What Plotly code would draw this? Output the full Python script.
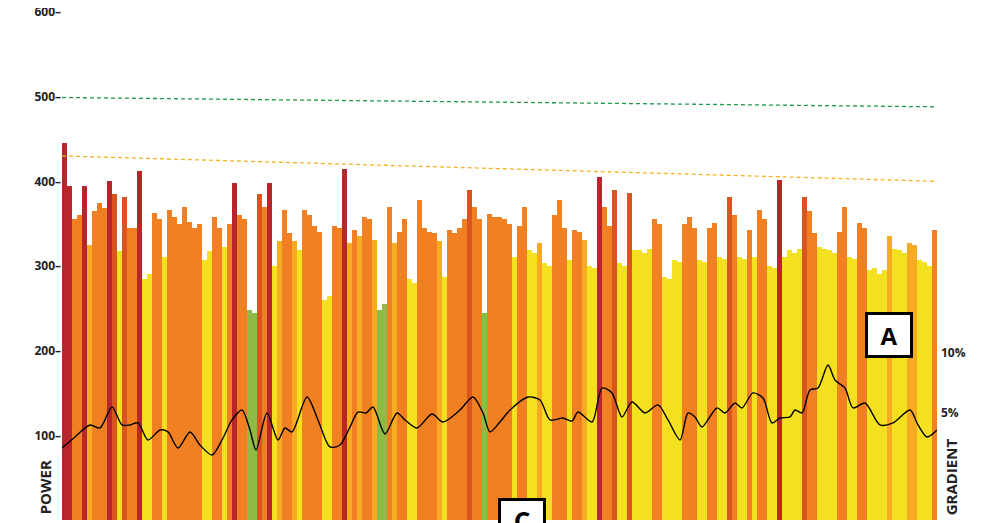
import plotly.graph_objects as go

# Power per sample (W)
power = [
    445, 395, 355, 360, 395, 325, 365, 375, 368, 400,
    385, 318, 382, 345, 345, 412, 285, 290, 363, 355,
    311, 366, 358, 350, 370, 352, 345, 350, 307, 318,
    358, 345, 323, 350, 398, 360, 355, 248, 245, 385,
    370, 398, 300, 330, 366, 339, 330, 319, 366, 360,
    347, 340, 260, 265, 347, 345, 414, 327, 343, 335,
    358, 355, 331, 248, 255, 370, 327, 340, 355, 285,
    280, 378, 345, 340, 339, 330, 287, 343, 339, 345,
    355, 390, 370, 355, 244, 362, 358, 358, 355, 350,
    311, 347, 370, 319, 315, 327, 304, 300, 360, 378,
    345, 307, 343, 340, 331, 300, 298, 405, 370, 347,
    390, 304, 300, 386, 319, 319, 315, 320, 355, 350,
    287, 285, 307, 305, 350, 358, 345, 307, 305, 345,
    351, 311, 308, 382, 360, 311, 308, 343, 311, 366,
    355, 300, 298, 402, 311, 319, 315, 320, 382, 365,
    339, 323, 320, 319, 315, 340, 370, 311, 308, 351,
    345, 295, 298, 290, 295, 335, 320, 319, 315, 327,
    325, 307, 305, 300, 343,
]

# Gradient profile (%), sampled along the same distance scale
gradient_pos = [
    -0.5, 2.1, 5.1, 7.1, 9.5, 11.5, 13.1, 14.7, 16.7, 19.1,
    20.7, 22.7, 25.1, 27.1, 29.5, 31.5, 33.5, 35.5, 37.1, 38.3,
    40.5, 42.7, 44.1, 45.5, 48.5, 50.7, 53.1, 55.1, 57.1, 58.7,
    60.3, 61.7, 64.1, 66.5, 68.1, 70.5, 73.5, 75.7, 79.1, 81.7,
    83.7, 85.1, 87.1, 89.1, 92.7, 95.1, 97.1, 99.7, 101.5, 102.7,
    105.5, 107.5, 109.5, 111.5, 113.5, 116.1, 118.7, 120.7, 123.1, 124.7,
    126.1, 127.5, 130.5, 132.1, 134.1, 135.5, 137.7, 139.7, 141.5, 143.1,
    145.1, 146.1, 147.5, 149.1, 150.7, 152.7, 154.1, 156.1, 157.7, 160.1,
    163.1, 165.7, 169.1, 170.7, 172.5, 174.5,
]
gradient_pct = [
    2.08, 3.0, 4.0, 3.75, 5.5, 4.0, 4.0, 4.17, 2.75, 3.58,
    3.42, 2.08, 3.42, 2.33, 1.5, 2.75, 4.42, 5.25, 3.58, 1.92,
    5.0, 2.75, 3.75, 3.42, 6.33, 4.42, 2.17, 2.33, 3.83, 5.08,
    5.0, 5.5, 3.25, 5.0, 4.42, 3.75, 4.92, 4.25, 5.25, 6.33,
    5.0, 3.42, 4.25, 5.25, 6.33, 6.08, 4.42, 4.58, 4.33, 5.08,
    4.25, 7.08, 6.67, 4.67, 5.92, 5.0, 5.67, 4.42, 2.75, 5.0,
    4.67, 3.83, 5.42, 5.0, 5.83, 5.42, 6.67, 6.25, 4.17, 4.58,
    4.67, 5.25, 5.0, 6.92, 7.08, 9.0, 7.75, 7.08, 5.42, 5.83,
    4.0, 4.17, 5.25, 4.0, 3.0, 3.58,
]

# Threshold reference lines (start, end) in W
threshold_green = [499, 488]
threshold_orange = [430, 400]

power_ticks = [100, 200, 300, 400, 500, 600]
power_tick_labels = ["100–", "200–", "300–", "400–", "500–", "600–"]
gradient_ticks = [5, 10]
gradient_tick_labels = ["5%", "10%"]


def zone_color(v):
    if v < 258:
        return "#8fba45"
    if v < 325:
        return "#f3e11f"
    if v < 337:
        return "#f6ab22"
    if v < 380:
        return "#f08022"
    if v < 395:
        return "#d9541f"
    return "#b8252b"


n = len(power)
xs = list(range(n))
colors = [zone_color(v) for v in power]
x_ends = [-0.5, n - 0.5]

fig = go.Figure()
fig.add_trace(go.Bar(
    x=xs, y=power, marker=dict(color=colors, line=dict(width=0)),
    hoverinfo="y", showlegend=False,
))
fig.add_trace(go.Scatter(
    x=x_ends, y=threshold_green, mode="lines",
    line=dict(color="#1b9a4c", width=1.3, dash="4px,3px"), showlegend=False,
))
fig.add_trace(go.Scatter(
    x=x_ends, y=threshold_orange, mode="lines",
    line=dict(color="#f5b322", width=1.3, dash="4px,3px"), showlegend=False,
))
fig.add_trace(go.Scatter(
    x=gradient_pos, y=gradient_pct, mode="lines", yaxis="y2",
    line=dict(color="black", width=1.4, shape="spline", smoothing=0.8),
    showlegend=False,
))

label_font = dict(family="Open Sans", size=12, color="#222222", weight="bold")
side_font = dict(family="Open Sans", size=15, color="#222222", weight="bold")

fig.update_layout(
    width=979, height=515,
    margin=dict(l=54, r=50, t=4, b=3, autoexpand=False),
    paper_bgcolor="white", plot_bgcolor="white",
    bargap=0,
    xaxis=dict(range=x_ends, visible=False, fixedrange=True),
    yaxis=dict(
        range=[0, 600], tickvals=power_ticks, ticktext=power_tick_labels,
        showgrid=False, zeroline=False, showline=False, ticks="",
        tickfont=label_font, ticklabelstandoff=0, automargin=False,
        ticklabeloverflow="allow",
    ),
    yaxis2=dict(
        range=[-3.92, 38.42], overlaying="y", side="right",
        tickvals=gradient_ticks, ticktext=gradient_tick_labels,
        showgrid=False, zeroline=False, showline=False, ticks="",
        tickfont=label_font, ticklabelstandoff=3, automargin=False,
    ),
    annotations=[
        dict(text="POWER", textangle=-90, xref="paper", yref="paper",
             x=-0.019, y=0.008, xanchor="center", yanchor="bottom", showarrow=False,
             font=side_font),
        dict(text="GRADIENT", textangle=-90, xref="paper", yref="paper",
             x=1.017, y=0.006, xanchor="center", yanchor="bottom", showarrow=False,
             font=side_font),
        dict(text="A", xref="paper", yref="paper", x=0.945, y=0.364,
             xanchor="center", yanchor="middle", showarrow=False,
             width=38, height=36, bgcolor="white", bordercolor="black",
             borderwidth=3, borderpad=2,
             font=dict(family="Open Sans", size=24, color="black", weight="bold")),
        dict(text="C", xref="paper", yref="paper", x=0.526, y=0.043,
             xanchor="center", yanchor="top", showarrow=False,
             width=38, height=40, bgcolor="white", bordercolor="black",
             borderwidth=3, borderpad=2, valign="top",
             font=dict(family="Open Sans", size=26, color="black", weight="bold")),
    ],
)

fig.write_html("out.html")
